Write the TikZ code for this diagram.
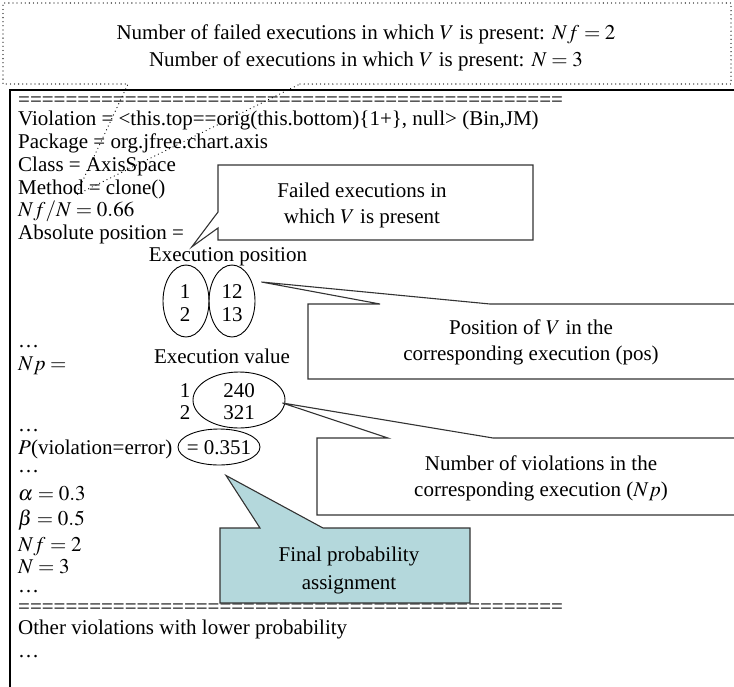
\documentclass[tikz,border=0pt]{standalone}
\usepackage{mathptmx}
\usepackage{fontspec}
\setmainfont{Liberation Serif}
\usetikzlibrary{shapes.geometric, positioning, calc}
\definecolor{probteal}{HTML}{B4D8DC}
\definecolor{calloutline}{HTML}{333333}

\begin{document}
\begin{tikzpicture}[x=1pt, y=-1pt,
  every node/.style={font=\fontsize{21}{26}\selectfont, inner sep=0pt},
  txt/.style={anchor=base west},
  mid/.style={anchor=base},
  oval/.style={draw, ellipse, line width=0.9pt},
  callout/.style={draw=calloutline, line width=1.1pt, fill=white},
  dotbox/.style={line width=1.2pt, dash pattern=on 0.1pt off 4pt, line cap=round}
]
\useasboundingbox (0,0) rectangle (734,686);

% header with the two counts
\draw[dotbox] (300,84) -- (731,84) -- (731,3) -- (3,3) -- (3,84) -- (128,84) -- (76,195) -- cycle;
\node[mid] (nfail) at (366,39) {Number of failed executions in which $V$ is present: $Nf = 2$};
\node[mid] (nall) at (366,66) {Number of executions in which $V$ is present: $N = 3$};

% report frame
\draw[line width=1.1pt] (740,90) -- (10,90) -- (10,690);

\node[txt] (eqtop) at (18,106) {==============================================};
\node[txt] (viol) at (18,125) {Violation = <this.top==orig(this.bottom)\{1+\}, null> (Bin,JM)};
\node[txt] (pkg) at (18,148) {Package = org.jfree.chart.axis};
\node[txt] (cls) at (18,171) {Class = AxisSpace};
\node[txt] (meth) at (18,194) {Method = clone()};
\node[txt] (ratio) at (18,216) {$Nf/N = 0.66$};
\node[txt] (abspos) at (18,239) {Absolute position =};

% execution positions
\node[mid] (exposlab) at (228,261) {Execution position};
\node[oval, minimum width=46pt, minimum height=72pt] (runA) at (186,301) {};
\node[oval, minimum width=46pt, minimum height=72pt] (posB) at (232,301) {};
\node[mid] (runA1) at (185,298) {1};
\node[mid] (runA2) at (185,321) {2};
\node[mid] (posB1) at (232,298) {12};
\node[mid] (posB2) at (232,321) {13};

\node[txt] (dotsA) at (18,347) {\dots};
\node[txt] (nplab) at (18,370) {$Np =$};

% execution values
\node[mid] (exvallab) at (222,363) {Execution value};
\node[oval, minimum width=92pt, minimum height=56pt] (vals) at (239,400) {};
\node[mid] (valrun1) at (185,397) {1};
\node[mid] (valrun2) at (185,419) {2};
\node[mid] (val1) at (239,397) {240};
\node[mid] (val2) at (239,419) {321};

\node[txt] (dotsB) at (18,431) {\dots};
\node[txt] (prob) at (18,454) {$P$(violation=error)};
\node[oval, minimum width=82pt, minimum height=36pt] (probval) at (219,447) {};
\node[mid] (probnum) at (219,454) {= 0.351};
\node[txt] (dotsC) at (18,472) {\dots};
\node[txt] (alpha) at (18,500) {$\alpha = 0.3$};
\node[txt] (beta) at (18,525) {$\beta = 0.5$};
\node[txt] (nf) at (18,551) {$Nf = 2$};
\node[txt] (n) at (18,573) {$N = 3$};
\node[txt] (dotsD) at (18,592) {\dots};
\node[txt] (eqbot) at (18,613) {==============================================};
\node[txt] (other) at (18,634) {Other violations with lower probability};
\node[txt] (dotsE) at (18,657) {\dots};

% callouts
\draw[callout] (218,165) -- (533,165) -- (533,240) -- (218,240) -- (218,228)
  -- ($(exposlab.north west)+(43,0)$) -- (218,212) -- cycle;
\node[align=center] (failnote) at (362,205) {Failed executions in\\which $V$ is present};

\draw[callout] (308,304) -- (380,304) -- ($(posB.east)+(6,-19)$) -- (490,304)
  -- (770,304) -- (770,379) -- (308,379) -- cycle;
\node[align=center] (posnote) at (531,342) {Position of $V$ in the\\corresponding execution (pos)};

\draw[callout] (317,438) -- (388,438) -- ($(vals.east)+(-3,3)$) -- (493,438)
  -- (770,438) -- (770,515) -- (317,515) -- cycle;
\node[align=center] (npnote) at (541,478) {Number of violations in the\\corresponding execution ($Np$)};

\draw[callout, fill=probteal] (220,528) -- (260,528) -- ($(probval.south)+(7,10)$) -- (323,528)
  -- (470,528) -- (470,603) -- (220,603) -- cycle;
\node[align=center] (finalnote) at (349,570) {Final probability\\[2pt]assignment};
\end{tikzpicture}
\end{document}
